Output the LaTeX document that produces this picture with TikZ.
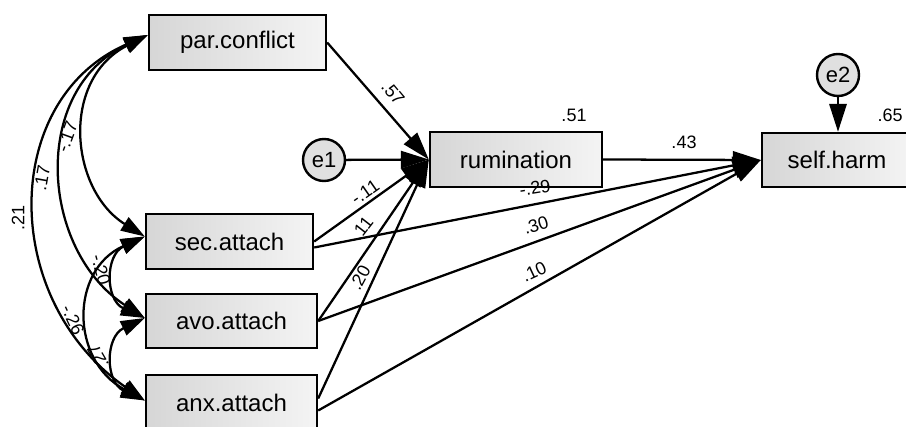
\documentclass[tikz,border=0pt]{standalone}
\usepackage{fontspec}
\setmainfont{Liberation Sans}
\usetikzlibrary{arrows.meta,calc}
\definecolor{boxL}{RGB}{214,214,214}
\definecolor{boxR}{RGB}{244,244,244}
\definecolor{errF}{RGB}{224,224,224}
\begin{document}
\begin{tikzpicture}[x=0.75pt,y=-0.75pt,
  box/.style={draw, line width=1.8pt, left color=boxL, right color=boxR, inner sep=0pt, font=\fontsize{18}{20}\selectfont},
  err/.style={draw, circle, line width=1.8pt, fill=errF, minimum size=31.5pt, inner sep=0pt, font=\fontsize{16.5}{18}\selectfont},
  arr/.style={line width=1.7pt, -{Triangle[length=21pt,width=13pt]}},
  cov/.style={line width=1.7pt, {Triangle[length=18pt,width=11.5pt]}-{Triangle[length=18pt,width=11.5pt]}},
  lab/.style={font=\fontsize{13.5}{15}\selectfont, inner sep=0pt}
]
\clip (0,0) rectangle (906,427);
\fill[white] (0,0) rectangle (906,427);

% boxes
\node[box, minimum width=132.75pt, minimum height=41.25pt] (par) at (237.5,42.5) {par.conflict};
\node[box, minimum width=129pt, minimum height=41.25pt] (rum) at (516,159.5) {rumination};
\node[box, minimum width=112.5pt, minimum height=40.5pt] (self) at (837,160) {self.harm};
\node[box, minimum width=125.25pt, minimum height=41.25pt] (sec) at (229.5,241.5) {sec.attach};
\node[box, minimum width=128.25pt, minimum height=40.5pt] (avo) at (231.5,321) {avo.attach};
\node[box, minimum width=128.25pt, minimum height=41.25pt] (anx) at (231.5,402.5) {anx.attach};
\node[err] (e1) at (324,160) {e1};
\node[err] (e2) at (838,75) {e2};

% attachment points for covariances
\coordinate (pL) at ($(par.west)+(0,-7.5)$);
\coordinate (sL) at ($(sec.west)+(0,-5)$);
\coordinate (vL) at ($(avo.west)+(0,-3)$);
\coordinate (xL) at ($(anx.west)+(0,-2)$);

% covariances
\draw[cov] (pL) .. controls (60,80) and (70,190) .. (sL);
\draw[cov] (pL) .. controls (30,90) and (40,250) .. (vL);
\draw[cov] (pL) .. controls (0,100) and (0,300) .. (xL);
\draw[cov] (sL) .. controls (105,255) and (105,300) .. (vL);
\draw[cov] (vL) .. controls (105,337) and (105,382) .. (xL);
\draw[cov] (sL) .. controls (70,270) and (70,360) .. (xL);

% regression paths
\draw[arr] (par.east) -- (rum.west);
\draw[arr] (e1) -- (rum.west);
\draw[arr] (sec.east) -- (rum.west);
\draw[arr] (avo.east) -- (rum.west);
\draw[arr] ($(anx.east)+(0,-4)$) -- (rum.west);
\draw[arr] (rum.east) -- (self.west);
\draw[arr] ($(sec.east)+(0,6)$) -- (self.west);
\draw[arr] (avo.east) -- (self.west);
\draw[arr] ($(anx.east)+(0,8)$) -- (self.west);
\draw[arr] (e2) -- (self.north -| e2);

% labels
\node[lab, rotate=90] (l1) at (18,218) {.21};
\node[lab, rotate=80] (l2) at (42,178) {.17};
\node[lab, rotate=70] (l3) at (67,137) {-.17};
\node[lab, rotate=-75] (l4) at (101,270) {-.20};
\node[lab, rotate=-65] (l5) at (73,320) {-.26};
\node[lab, rotate=120] (l6) at (98,357) {.27};
\node[lab, rotate=-50] (l7) at (393,93) {.57};
\node[lab, rotate=35] (l8) at (365,192) {-.11};
\node[lab, rotate=52] (l9) at (362,228) {.11};
\node[lab, rotate=62] (l10) at (360,278) {.20};
\node[lab, rotate=9] (l11) at (535,188) {-.29};
\node[lab, rotate=17] (l12) at (536,225) {.30};
\node[lab, rotate=25] (l13) at (534,272) {.10};
\node[lab] (l14) at (684,142) {.43};
\node[lab] (l15) at (574,115) {.51};
\node[lab] (l16) at (890,115) {.65};
\end{tikzpicture}
\end{document}
